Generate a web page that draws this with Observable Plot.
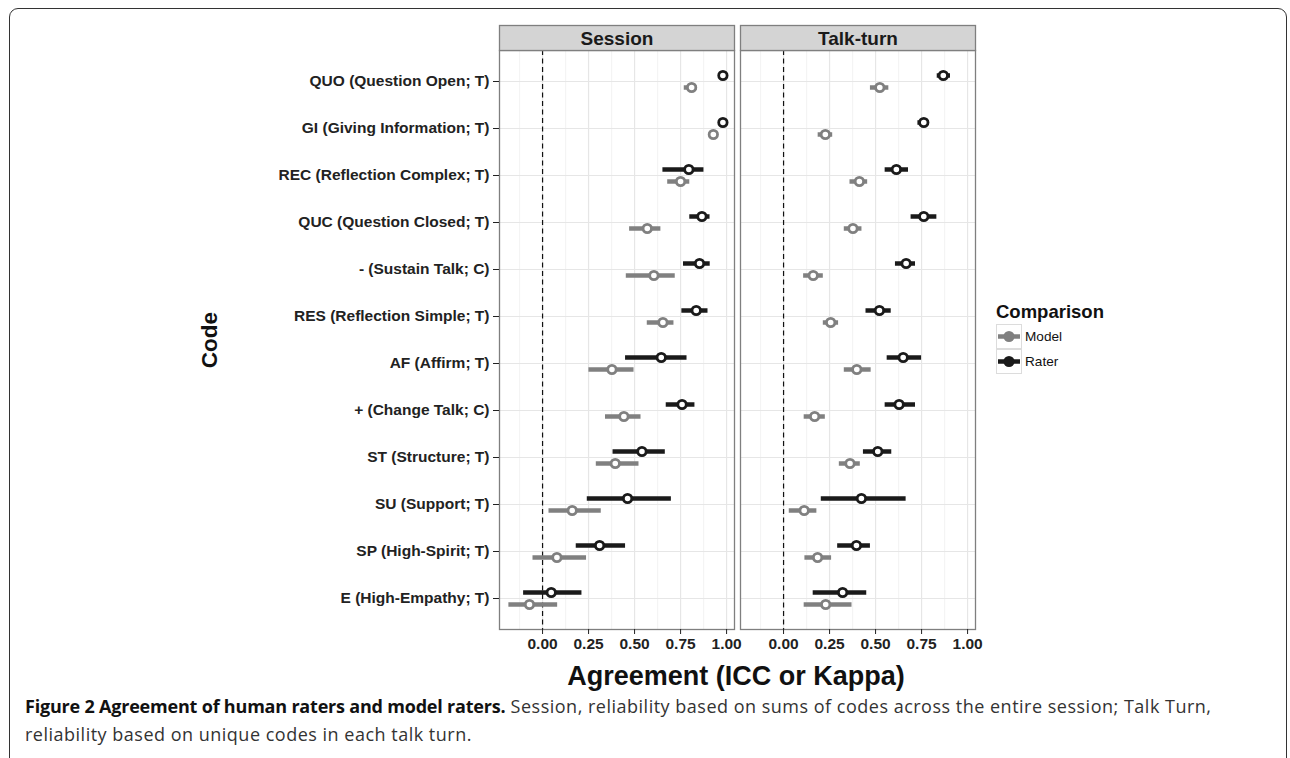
<!DOCTYPE html>
<html>
<head>
<meta charset="utf-8">
<script src="https://cdn.jsdelivr.net/npm/d3@7"></script>
<script src="https://cdn.jsdelivr.net/npm/@observablehq/plot@0.6"></script>
<style>
  html, body { margin: 0; padding: 0; background: #fff; }
  body { width: 1290px; height: 758px; position: relative; overflow: hidden; font-family: "Liberation Sans", Arial, sans-serif; }
  #frame { position: absolute; left: 9px; top: 8px; width: 1278px; height: 800px; border: 1.5px solid #333; border-radius: 9px; box-sizing: border-box; }
  #chart { position: absolute; left: 0; top: 0; }
  #ytitle { position: absolute; left: 210px; top: 340px; transform: translate(-50%, -50%) rotate(-90deg); font-weight: bold; font-size: 22.5px; color: #111; white-space: nowrap; }
  #xtitle { position: absolute; left: 736px; top: 676px; transform: translate(-50%, -50%); font-weight: bold; font-size: 27px; color: #111; white-space: nowrap; }
  #legend { position: absolute; left: 996px; top: 300px; }
  #legend .title { font-weight: bold; font-size: 18.5px; color: #111; height: 24px; line-height: 24px; }
  #legend .row { display: flex; align-items: center; height: 25px; }
  #legend .key { width: 26px; height: 25px; box-sizing: border-box; border: 1px solid #dcdcdc; }
  #legend .lab { font-size: 13.6px; margin-left: 3px; color: #111; }
  #caption { position: absolute; left: 25px; top: 692px; font-family: "Open Sans", sans-serif; font-size: 18px; letter-spacing: 0.5px; line-height: 28px; color: #333; white-space: nowrap; }
  #caption b { color: #111; letter-spacing: -0.2px; }
</style>
</head>
<body>
<div id="frame"></div>
<div id="chart"></div>
<div id="ytitle">Code</div>
<div id="xtitle">Agreement (ICC or Kappa)</div>
<div id="legend"></div>
<div id="caption"><b>Figure 2 Agreement of human raters and model raters.</b> Session, reliability based on sums of codes across the entire session; Talk Turn,<br>reliability based on unique codes in each talk turn.</div>
<script>
const codes = [
  "QUO (Question Open; T)", "GI (Giving Information; T)", "REC (Reflection Complex; T)",
  "QUC (Question Closed; T)", "- (Sustain Talk; C)", "RES (Reflection Simple; T)",
  "AF (Affirm; T)", "+ (Change Talk; C)", "ST (Structure; T)",
  "SU (Support; T)", "SP (High-Spirit; T)", "E (High-Empathy; T)"
];
const panels = ["Session", "Talk-turn"];
const comparisons = ["Model", "Rater"];
const xTicks = [0, 0.25, 0.5, 0.75, 1];

// Session
const sessionRater   = [0.980, 0.980, 0.795, 0.866, 0.853, 0.835, 0.645, 0.758, 0.540, 0.462, 0.310, 0.047];
const sessionRaterLo = [0.975, 0.975, 0.654, 0.800, 0.766, 0.757, 0.451, 0.672, 0.383, 0.243, 0.183, -0.103];
const sessionRaterHi = [0.985, 0.985, 0.877, 0.910, 0.911, 0.899, 0.785, 0.828, 0.667, 0.700, 0.451, 0.214];
const sessionModel   = [0.810, 0.928, 0.750, 0.569, 0.605, 0.654, 0.377, 0.442, 0.395, 0.161, 0.078, -0.071];
const sessionModelLo = [0.770, 0.922, 0.680, 0.473, 0.455, 0.569, 0.252, 0.342, 0.292, 0.035, -0.052, -0.183];
const sessionModelHi = [0.840, 0.934, 0.800, 0.643, 0.721, 0.714, 0.497, 0.535, 0.524, 0.319, 0.239, 0.082];
// Talk-turn
const talkRater   = [0.868, 0.762, 0.613, 0.762, 0.666, 0.521, 0.650, 0.628, 0.512, 0.423, 0.396, 0.321];
const talkRaterLo = [0.835, 0.730, 0.552, 0.693, 0.608, 0.448, 0.563, 0.552, 0.434, 0.205, 0.294, 0.161];
const talkRaterHi = [0.907, 0.793, 0.679, 0.833, 0.717, 0.585, 0.750, 0.717, 0.588, 0.666, 0.472, 0.452];
const talkModel   = [0.523, 0.227, 0.412, 0.377, 0.161, 0.256, 0.398, 0.169, 0.361, 0.112, 0.185, 0.229];
const talkModelLo = [0.472, 0.188, 0.361, 0.330, 0.109, 0.216, 0.330, 0.112, 0.303, 0.031, 0.116, 0.112];
const talkModelHi = [0.572, 0.267, 0.457, 0.426, 0.216, 0.299, 0.476, 0.227, 0.417, 0.181, 0.261, 0.372];

const colors = {Model: "#808080", Rater: "#1a1a1a"};

const rows = [];
function add(panel, comparison, est, lo, hi) {
  codes.forEach((c, i) => rows.push({panel, comparison, code: c, est: est[i], lo: lo[i], hi: hi[i]}));
}
add("Session", "Model", sessionModel, sessionModelLo, sessionModelHi);
add("Session", "Rater", sessionRater, sessionRaterLo, sessionRaterHi);
add("Talk-turn", "Model", talkModel, talkModelLo, talkModelHi);
add("Talk-turn", "Rater", talkRater, talkRaterLo, talkRaterHi);

const model = rows.filter(d => d.comparison === "Model");
const rater = rows.filter(d => d.comparison === "Rater");

const H = 700, MT = 50, MB = 71;
const panelH = H - MT - MB;

const chart = Plot.plot({
  width: 1290, height: H,
  marginLeft: 498, marginRight: 315, marginTop: MT, marginBottom: MB,
  style: {fontFamily: "'Liberation Sans', Arial, sans-serif", background: "transparent", overflow: "visible"},
  fx: {domain: panels, padding: 0.025, label: null, axis: null},
  x: {domain: [-0.234, 1.043], label: null, axis: null},
  y: {type: "point", domain: codes, padding: 0.6, label: null, axis: null},
  marks: [
    Plot.frame({fill: "white"}),
    Plot.gridX({ticks: [-0.125, 0.125, 0.375, 0.625, 0.875], stroke: "#f4f4f4", strokeOpacity: 1, strokeWidth: 1.2}),
    Plot.gridX({ticks: xTicks, stroke: "#e6e6e6", strokeOpacity: 1, strokeWidth: 1.2}),
    Plot.gridY({stroke: "#e6e6e6", strokeOpacity: 1, strokeWidth: 1.2}),
    Plot.ruleX([0], {stroke: "#111", strokeWidth: 1.2, strokeDasharray: "5,3.5"}),
    Plot.ruleY(model, {fx: "panel", y: "code", x1: "lo", x2: "hi", dy: 6, stroke: colors.Model, strokeWidth: 4.5}),
    Plot.dot(model, {fx: "panel", y: "code", x: "est", dy: 6, r: 4.2, fill: "white", stroke: colors.Model, strokeWidth: 2.8}),
    Plot.ruleY(rater, {fx: "panel", y: "code", x1: "lo", x2: "hi", dy: -6, stroke: colors.Rater, strokeWidth: 4.5}),
    Plot.dot(rater, {fx: "panel", y: "code", x: "est", dy: -6, r: 4.2, fill: "white", stroke: colors.Rater, strokeWidth: 2.8}),
    Plot.frame({stroke: "#7f7f7f", strokeWidth: 1.3}),
    Plot.frame({fill: "#d4d4d4", stroke: "#7f7f7f", strokeWidth: 1.3, insetTop: -25, insetBottom: panelH}),
    Plot.axisFx({anchor: "top", tickSize: 0, tickPadding: 6, label: null, fontSize: 19, fontWeight: "bold", color: "#1a1a1a"}),
    Plot.axisY({tickSize: 6, tickPadding: 4, label: null, fontSize: 15.5, fontWeight: "bold", color: "#222"}),
    Plot.axisX({ticks: xTicks, tickFormat: d3.format(".2f"), tickSize: 5, tickPadding: 3, label: null, fontSize: 15.5, fontWeight: "bold", color: "#222"})
  ]
});
document.getElementById("chart").appendChild(chart);

// legend
const lg = document.getElementById("legend");
const t = document.createElement("div"); t.className = "title"; t.textContent = "Comparison"; lg.appendChild(t);
comparisons.forEach(c => {
  const row = document.createElement("div"); row.className = "row";
  row.innerHTML = `<div class="key"><svg width="24" height="23"><line x1="1" x2="23" y1="11.5" y2="11.5" stroke="${colors[c]}" stroke-width="4.5"/><circle cx="12" cy="11.5" r="5.5" fill="${colors[c]}"/></svg></div><span class="lab">${c}</span>`;
  lg.appendChild(row);
});
</script>
</body>
</html>
